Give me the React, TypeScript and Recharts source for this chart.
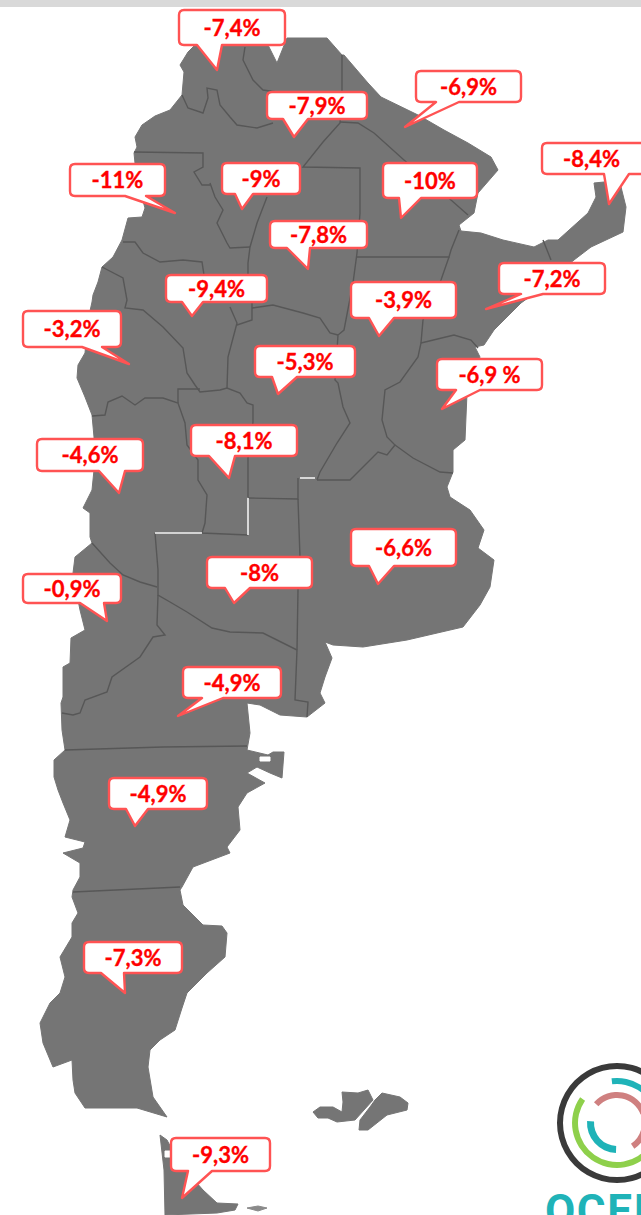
import React from "react";
import { ScatterChart, Scatter, XAxis, YAxis, ReferenceArea, Sector } from "recharts";

const W = 641;
const H = 1215;

// ---- map geometry, in map units ----
const mainland = [
  [195,45],[188,52],[180,65],[184,72],[182,95],[170,110],[155,116],[142,125],[135,137],[137,147],[134,153],[135,163],[137,180],[145,208],[142,217],[128,218],[122,240],[113,257],[102,267],[98,282],[93,295],[92,302],[88,320],[85,353],[78,365],[77,378],[85,397],[92,415],[94,437],[94,470],[92,490],[83,508],[90,513],[90,537],[92,543],[75,557],[73,573],[76,590],[80,610],[85,630],[71,638],[70,663],[63,667],[63,697],[61,703],[62,730],[65,750],[54,760],[54,777],[58,790],[63,803],[70,820],[65,837],[85,842],[83,848],[63,853],[80,863],[80,877],[73,890],[72,897],[78,913],[72,923],[72,937],[60,957],[65,977],[60,993],[50,1003],[40,1023],[43,1043],[53,1067],[72,1060],[73,1080],[75,1093],[85,1108],[137,1108],[167,1117],[153,1097],[148,1067],[150,1050],[160,1040],[175,1030],[182,1008],[187,993],[207,973],[225,957],[227,933],[222,926],[203,925],[183,905],[180,890],[182,887],[193,867],[230,853],[227,847],[240,830],[238,807],[247,793],[265,783],[247,773],[257,767],[270,773],[282,778],[284,752],[273,752],[268,755],[247,750],[250,733],[247,703],[260,705],[280,715],[307,717],[325,703],[320,693],[325,677],[332,658],[325,642],[333,645],[363,647],[407,640],[463,627],[480,605],[490,587],[494,560],[478,548],[484,530],[470,510],[450,497],[447,487],[453,472],[453,450],[465,440],[467,393],[480,357],[475,347],[484,345],[494,330],[521,303],[528,298],[574,260],[591,247],[623,232],[626,207],[621,187],[604,182],[594,183],[596,197],[588,213],[558,240],[548,240],[534,247],[503,240],[481,233],[461,231],[459,225],[474,213],[478,193],[498,170],[491,157],[468,143],[444,130],[418,115],[381,97],[368,83],[344,55],[342,55],[327,38],[287,38],[277,63],[268,45],
];
const tierraDelFuego = [
  [160,1135],[167,1140],[175,1155],[188,1173],[203,1190],[217,1203],[238,1204],[235,1210],[217,1213],[165,1215],[164,1170],
];
const islet = [[247,1208],[258,1206],[267,1208],[258,1211]];
const malvinasWest = [
  [313,1112],[320,1107],[333,1107],[342,1112],[343,1102],[342,1092],[358,1093],[368,1090],[373,1100],[355,1120],[337,1122],[328,1118],[318,1118],
];
const malvinasEast = [
  [375,1100],[382,1093],[400,1097],[408,1103],[407,1110],[387,1115],[368,1130],[359,1130],[360,1120],[370,1107],
];
const tdfHole = [[165,1151],[170,1151],[170,1157],[165,1157]];
const valdesHole = [[260,757],[270,757],[270,761],[260,761]];

const borders = [
  [[182,95],[188,108],[203,113],[208,98],[207,88],[217,90],[220,105],[230,117],[237,125],[257,128],[273,123]],
  [[245,47],[243,60],[253,80],[263,90],[277,92]],
  [[342,55],[342,90],[340,123],[323,142],[303,167],[360,168],[360,213],[357,253],[353,283],[344,330],[338,335],[335,380],[338,383],[343,407],[350,423],[337,443],[320,472],[317,480]],
  [[340,122],[358,123],[374,133],[404,160],[430,182],[451,200],[468,215]],
  [[356,257],[449,257],[451,250],[459,230]],
  [[449,257],[441,280],[423,320],[421,343],[418,357],[400,382],[385,390],[382,420],[387,437],[395,445],[387,455],[378,452],[350,480],[317,480]],
  [[421,343],[454,335],[471,340],[478,348]],
  [[395,445],[413,458],[440,472],[453,473]],
  [[543,240],[551,260]],
  [[267,197],[257,223],[250,247],[248,263],[248,275]],
  [[210,183],[215,197],[223,210],[217,223],[227,243],[230,248],[250,247]],
  [[134,152],[203,153],[203,167],[194,172],[202,185],[210,185]],
  [[123,242],[135,242],[143,253],[160,262],[183,260],[202,262],[204,275]],
  [[102,267],[123,278],[127,300],[125,308],[143,310],[163,327],[183,348],[187,373],[195,385],[200,392],[220,390],[227,388],[240,393],[247,403],[253,405],[253,422],[248,458],[248,497]],
  [[230,307],[237,323],[228,357],[227,388]],
  [[252,303],[252,320],[237,325]],
  [[252,308],[273,305],[303,313],[320,318],[330,333],[338,335]],
  [[178,403],[178,389],[200,389]],
  [[92,416],[105,415],[108,402],[122,396],[135,405],[145,398],[163,398],[178,403],[185,423],[187,445],[198,460],[198,480],[207,495],[205,523],[202,533],[248,535]],
  [[248,498],[298,499],[298,478]],
  [[298,499],[300,557],[298,590],[297,650],[295,700],[308,702],[307,717]],
  [[92,543],[110,563],[123,575],[140,582],[157,587]],
  [[155,533],[158,570],[158,595],[170,602],[187,612],[212,628],[230,632],[263,633],[283,643],[297,650]],
  [[158,595],[157,625],[165,635],[153,637],[140,657],[112,677],[107,692],[85,700],[80,713],[73,715],[62,713]],
  [[65,750],[163,747],[247,746]],
  [[73,892],[180,887]],
];
const whiteSeams = [
  [[155,533],[202,533]],
  [[248,498],[248,535]],
  [[300,478],[315,478]],
];

// ---- values ----
const labels = ["-7,4%","-7,9%","-6,9%","-8,4%","-11%","-9%","-10%","-7,8%","-7,2%","-3,9%","-9,4%","-3,2%","-5,3%","-6,9 %","-8,1%","-4,6%","-6,6%","-8%","-0,9%","-4,9%","-4,9%","-7,3%","-9,3%"];
const tipX = [217,294,405,609,175,242,401,308,486,379,192,129,278,442,229,119,378,234,107,178,135,125,182];
const tipY = [70,137,127,204,213,209,218,269,309,336,316,364,394,409,478,493,584,603,621,716,826,993,1198];

// layout only: left, top, right, bottom of each callout, then the tail's base
const boxes = [
  [179,10,285,45,197,222],[267,92,367,119,283,308],[416,71,521,102,436,459],[542,143,650,174,604,629],
  [70,164,165,196,125,146],[222,163,300,194,235,253],[383,163,477,198,399,421],[270,221,367,248,287,310],
  [499,263,605,294,521,543],[351,282,456,318,369,394],[166,275,267,302,182,203],[23,311,121,347,82,102],
  [255,346,355,377,272,297],[437,359,542,390,456,480],[191,425,297,456,209,235],[37,439,143,471,99,125],
  [351,529,456,566,369,394],[207,557,312,588,225,250],[23,574,121,603,80,104],[183,667,281,698,202,223],
  [109,778,207,809,126,148],[84,942,182,973,101,124],[171,1138,270,1171,188,212],
];

const pts = (a: number[][]) => a.map(([x, y]) => ({ x, y }));
const calloutData = labels.map((label, i) => ({ x: tipX[i], y: tipY[i], label, i }));
const logoAnchor = [{ x: 617, y: 1123 }];
const wordAnchor = [{ x: 545, y: 1215 }];

const MAP = "#757575";
const LINE = "#575757";
const EDGE = "#ff5353";
const TEAL = "#1fb3b8";
const None = () => <g />;

function Callout(props: any) {
  const { cx, cy, payload } = props;
  const [l0, t0, r0, b0, s0, e0] = boxes[payload.i];
  const ox = cx - payload.x;
  const oy = cy - payload.y;
  const l = l0 + ox, t = t0 + oy, r = r0 + ox, b = b0 + oy, s = s0 + ox, e = e0 + ox;
  const c = 5;
  const d = `M${l + c},${t}H${r - c}Q${r},${t} ${r},${t + c}V${b - c}Q${r},${b} ${r - c},${b}H${e}L${cx},${cy}L${s},${b}H${l + c}Q${l},${b} ${l},${b - c}V${t + c}Q${l},${t} ${l + c},${t}Z`;
  return (
    <g>
      <path d={d} fill="#ffffff" stroke={EDGE} strokeWidth={2.4} strokeLinejoin="round" />
      <text
        x={(l0 + Math.min(r0, 645)) / 2 + ox - (r0 > 641 ? 2 : 0)}
        y={(t0 + b0) / 2 + oy + 8}
        textAnchor="middle"
        fontFamily="Lato, sans-serif"
        fontWeight={700}
        fontSize={22}
        stroke="#ff0000"
        strokeWidth={0.35}
        fill="#ff0000"
      >
        {payload.label}
      </text>
    </g>
  );
}

function Logo(props: any) {
  const { cx, cy } = props;
  const arc = (r0: number, r1: number, a0: number, a1: number, fill: string) => (
    <Sector cx={cx} cy={cy} innerRadius={r0} outerRadius={r1} startAngle={a0} endAngle={a1} fill={fill} stroke="none" />
  );
  return (
    <g>
      {arc(54, 60, 0, 360, "#3a3a3a")}
      {arc(39, 45, 145, 325, "#8ed04b")}
      {arc(39, 45, 97, 20, TEAL)}
      {arc(25, 31, 138, 20, "#cf8080")}
      {arc(25, 31, 304, 345, "#cf8080")}
      {arc(23, 30, 176, 268, TEAL)}
    </g>
  );
}

function Word(props: any) {
  const { cx, cy } = props;
  return (
    <text x={cx} y={cy + 11} fontFamily="Roboto, sans-serif" fontWeight={700} fontSize={44} letterSpacing={1.5} fill={TEAL}>
      OCEI
    </text>
  );
}

export default function App() {
  const filled = (data: number[][], fill: string, key: string) => (
    <Scatter
      key={key}
      data={pts(data)}
      shape={None}
      line={{ stroke: fill, fill, strokeWidth: 1 }}
      lineJointType="linearClosed"
      isAnimationActive={false}
    />
  );
  const open = (data: number[][], stroke: string, width: number, key: string) => (
    <Scatter
      key={key}
      data={pts(data)}
      shape={None}
      line={{ stroke, fill: "none", strokeWidth: width }}
      lineJointType="linear"
      isAnimationActive={false}
    />
  );
  return (
    <div style={{ position: "absolute", left: 0, top: 0, width: W, height: H, background: "#fff" }}>
      <ScatterChart width={W} height={H} margin={{ top: 0, right: 0, bottom: 0, left: 0 }}>
        <XAxis type="number" dataKey="x" domain={[0, W]} hide />
        <YAxis type="number" dataKey="y" domain={[0, H]} reversed hide />
        <ReferenceArea x1={0} x2={W} y1={0} y2={7} fill="#d9d9d9" fillOpacity={1} stroke="none" />
        {filled(mainland, MAP, "mainland")}
        {filled(tierraDelFuego, MAP, "tdf")}
        {filled(islet, "#8a8a8a", "islet")}
        {filled(malvinasWest, MAP, "mw")}
        {filled(malvinasEast, MAP, "me")}
        {filled(tdfHole, "#ffffff", "h1")}
        {filled(valdesHole, "#ffffff", "h2")}
        {borders.map((b, i) => open(b, LINE, 1.4, `b${i}`))}
        {whiteSeams.map((b, i) => open(b, "#f2f2f2", 1.6, `w${i}`))}
        <Scatter data={calloutData} shape={Callout} isAnimationActive={false} />
        <Scatter data={logoAnchor} shape={Logo} isAnimationActive={false} />
        <Scatter data={wordAnchor} shape={Word} isAnimationActive={false} />
      </ScatterChart>
    </div>
  );
}
